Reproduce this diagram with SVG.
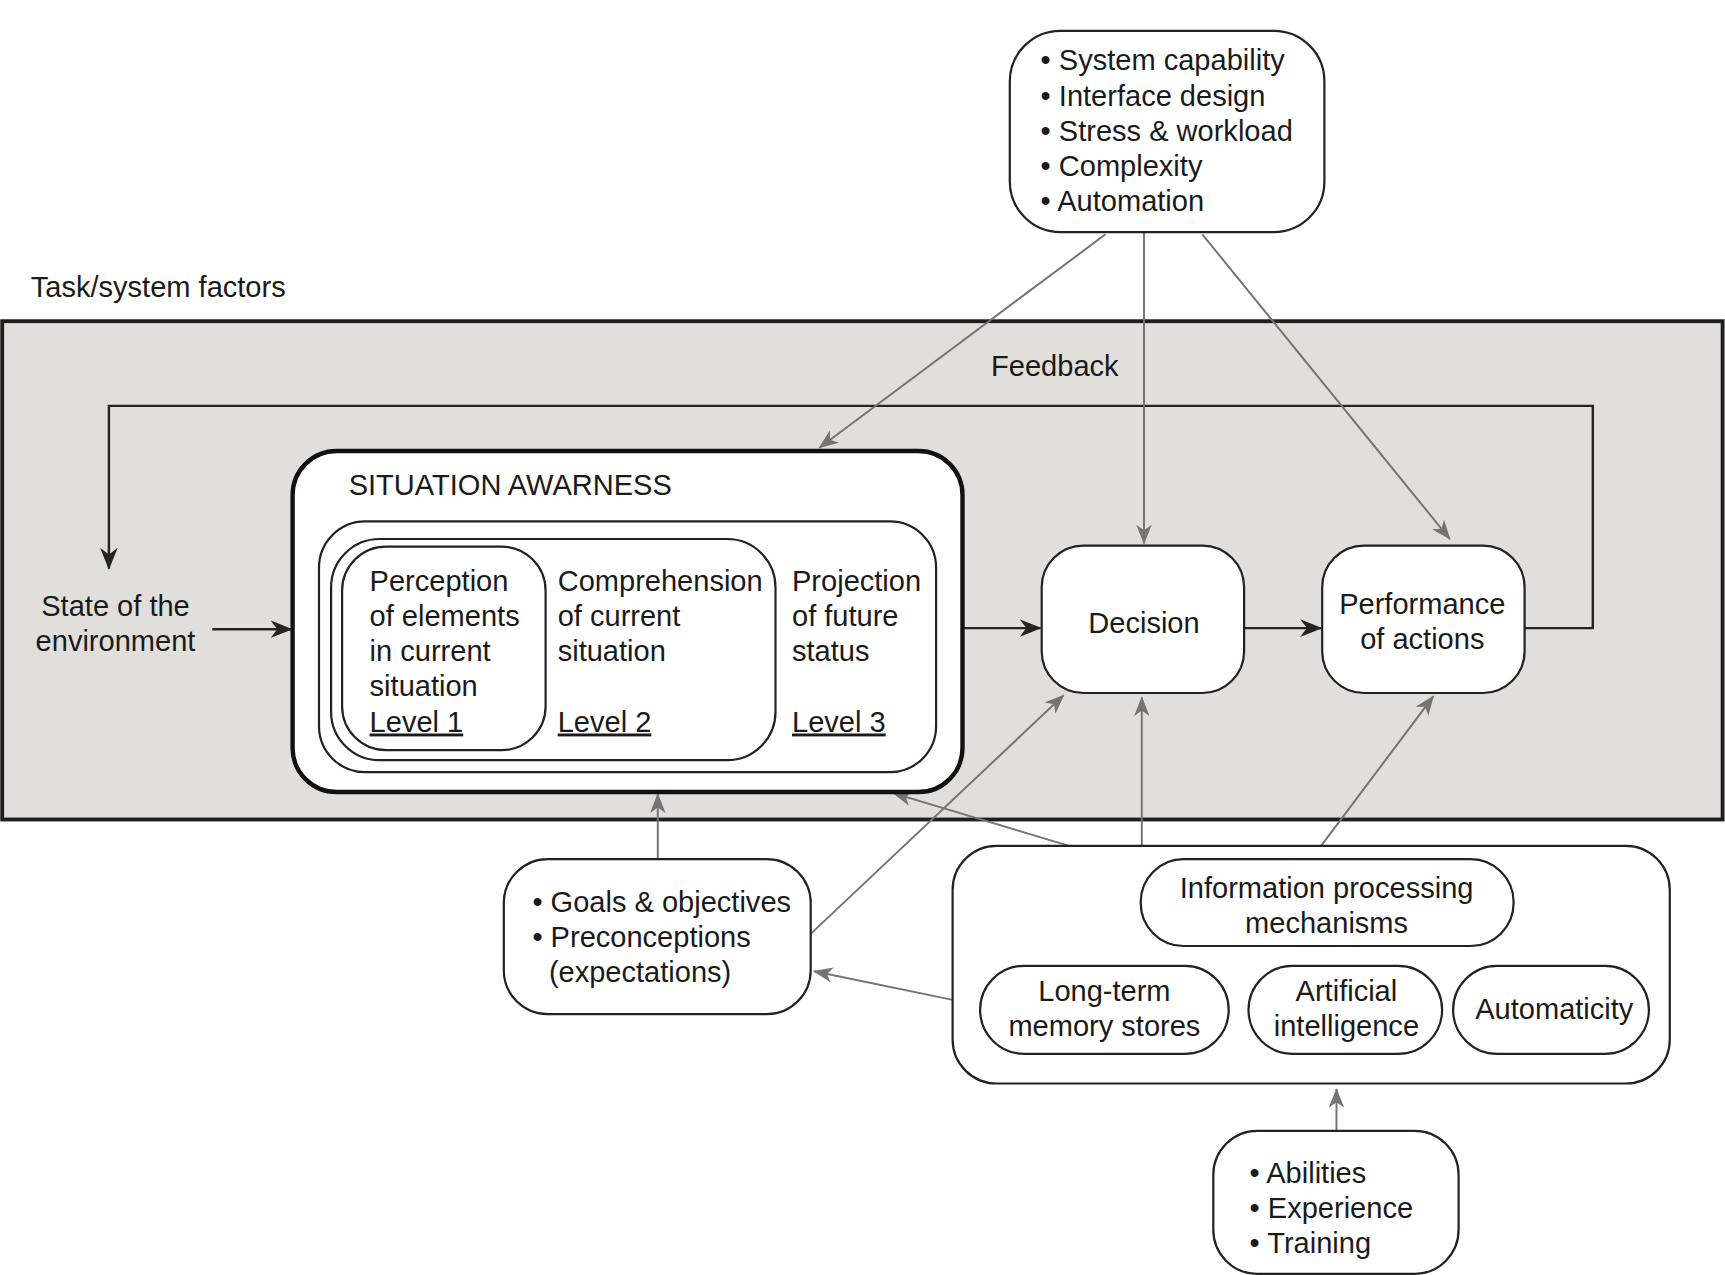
<svg xmlns="http://www.w3.org/2000/svg" width="1725" height="1275" viewBox="0 0 1725 1275">
<defs>
<style>
text{font-family:"Liberation Sans",Arial,sans-serif;font-size:26.4px;fill:#1a1a1a}
.mid{text-anchor:middle}
.node{fill:#fff;stroke:#222;stroke-width:2}
.thick{fill:#fff;stroke:#111;stroke-width:4}
.dark{fill:none;stroke:#2a2222;stroke-width:2.2}
.gray{fill:none;stroke:#747474;stroke-width:1.8}
.u{text-decoration:underline}
</style>
<marker id="ad" markerUnits="userSpaceOnUse" viewBox="0 0 20 16" refX="19" refY="8" markerWidth="20" markerHeight="16" orient="auto">
<path d="M0,0 L20,8 L0,16 L6,8 z" fill="#2a2222"/>
</marker>
<marker id="ag" markerUnits="userSpaceOnUse" viewBox="0 0 18 14" refX="17" refY="7" markerWidth="18" markerHeight="14" orient="auto">
<path d="M0,0 L18,7 L0,14 L5,7 z" fill="#747474"/>
</marker>
</defs>
<rect width="1725" height="1275" fill="#fff"/>
<g transform="scale(1.1)">
<g id="task-system-region">
<rect x="2" y="292" width="1564" height="453" fill="#e0dfdc" stroke="#1e1e1e" stroke-width="3.5"/>
<text x="28" y="270">Task/system factors</text>
<text x="901" y="342">Feedback</text>
</g>
<g id="connectors">
<path class="dark" d="M1386,571 H1448 V369 H99 V517" marker-end="url(#ad)"/>
<path class="dark" d="M193,572 H265" marker-end="url(#ad)"/>
<path class="dark" d="M876,571 H946" marker-end="url(#ad)"/>
<path class="dark" d="M1131,571 H1201" marker-end="url(#ad)"/>
<path class="gray" d="M1005,213 L745,407" marker-end="url(#ag)"/>
<path class="gray" d="M1040,211 V494" marker-end="url(#ag)"/>
<path class="gray" d="M1093,213 L1318,490" marker-end="url(#ag)"/>
<path class="gray" d="M598,781 V722" marker-end="url(#ag)"/>
<path class="gray" d="M972,769 L812,721" marker-end="url(#ag)"/>
<path class="gray" d="M737,849 L967,632" marker-end="url(#ag)"/>
<path class="gray" d="M1038,769 V634" marker-end="url(#ag)"/>
<path class="gray" d="M1201,769 L1303,633" marker-end="url(#ag)"/>
<path class="gray" d="M866,909 L740,883" marker-end="url(#ag)"/>
<path class="gray" d="M1215,1028 V990" marker-end="url(#ag)"/>
</g>
<g id="task-factors">
<rect class="node" x="918" y="28" width="286" height="183" rx="46"/>
<text x="946" y="64">• System capability</text>
<text x="946" y="96">• Interface design</text>
<text x="946" y="128">• Stress &amp; workload</text>
<text x="946" y="160">• Complexity</text>
<text x="946" y="192">• Automation</text>
</g>
<g id="state-of-environment">
<text class="mid" x="105" y="560">State of the</text>
<text class="mid" x="105" y="592">environment</text>
</g>
<g id="situation-awareness">
<rect class="thick" x="266" y="410" width="609" height="310" rx="40"/>
<text x="317" y="450">SITUATION AWARNESS</text>
<rect class="node" x="290" y="474" width="561" height="228" rx="42"/>
<rect class="node" x="301" y="490" width="404" height="201" rx="44"/>
<rect class="node" x="311" y="497" width="185" height="185" rx="40"/>
<text x="336" y="537">Perception</text>
<text x="336" y="569">of elements</text>
<text x="336" y="601">in current</text>
<text x="336" y="633">situation</text>
<text x="336" y="665" class="u">Level 1</text>
<text x="507" y="537">Comprehension</text>
<text x="507" y="569">of current</text>
<text x="507" y="601">situation</text>
<text x="507" y="665" class="u">Level 2</text>
<text x="720" y="537">Projection</text>
<text x="720" y="569">of future</text>
<text x="720" y="601">status</text>
<text x="720" y="665" class="u">Level 3</text>
</g>
<g id="decision">
<rect class="node" x="947" y="496" width="184" height="134" rx="38"/>
<text class="mid" x="1040" y="575">Decision</text>
</g>
<g id="performance">
<rect class="node" x="1202" y="496" width="184" height="134" rx="38"/>
<text class="mid" x="1293" y="558">Performance</text>
<text class="mid" x="1293" y="590">of actions</text>
</g>
<g id="goals">
<rect class="node" x="458" y="781" width="279" height="141" rx="40"/>
<text x="484" y="829">• Goals &amp; objectives</text>
<text x="484" y="861">• Preconceptions</text>
<text x="499" y="893">(expectations)</text>
</g>
<g id="individual-factors">
<rect class="node" x="866" y="769" width="652" height="216" rx="40"/>
</g>
<g id="info-processing">
<rect class="node" x="1037" y="781" width="339" height="79" rx="39"/>
<text class="mid" x="1206" y="816">Information processing</text>
<text class="mid" x="1206" y="848">mechanisms</text>
</g>
<g id="long-term-memory">
<rect class="node" x="891" y="878" width="226" height="80" rx="40"/>
<text class="mid" x="1004" y="910">Long-term</text>
<text class="mid" x="1004" y="942">memory stores</text>
</g>
<g id="artificial-intelligence">
<rect class="node" x="1135" y="878" width="176" height="80" rx="40"/>
<text class="mid" x="1224" y="910">Artificial</text>
<text class="mid" x="1224" y="942">intelligence</text>
</g>
<g id="automaticity">
<rect class="node" x="1321" y="878" width="178" height="80" rx="40"/>
<text class="mid" x="1413" y="926">Automaticity</text>
</g>
<g id="abilities">
<rect class="node" x="1103" y="1028" width="223" height="130" rx="40"/>
<text x="1136" y="1075">• Abilities</text>
<text x="1136" y="1107">• Experience</text>
<text x="1136" y="1139">• Training</text>
</g>
</g>
</svg>
